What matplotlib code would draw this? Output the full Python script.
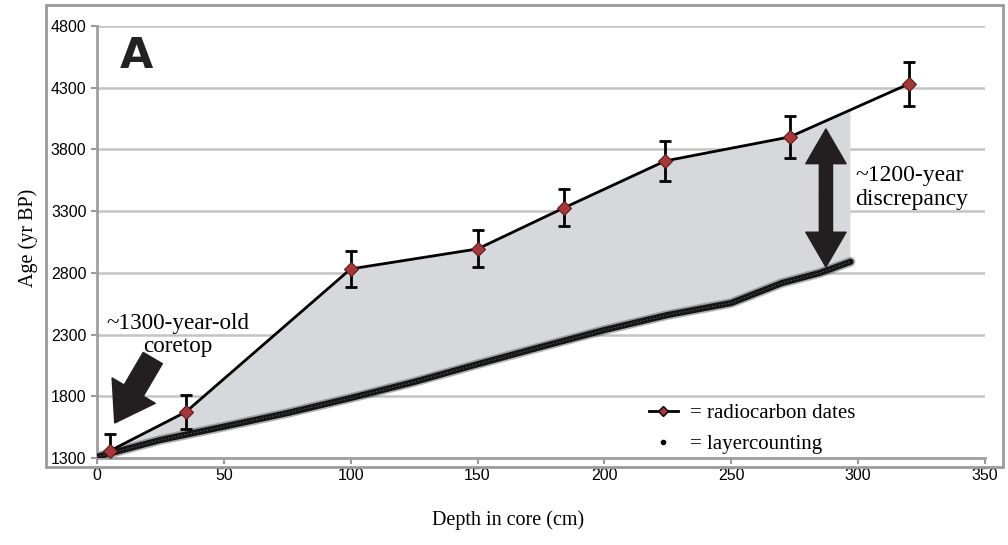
import matplotlib
matplotlib.use('Agg')
import matplotlib.pyplot as plt
import matplotlib.patches as mpatches
from matplotlib.lines import Line2D
import numpy as np

# radiocarbon dates (depth cm, age yr BP, 1-sigma error)
rc_depth = [5, 35, 100, 150, 184, 224, 273, 320]
rc_age = [1357, 1673, 2832, 2994, 3326, 3707, 3901, 4331]
rc_err = [140, 140, 145, 150, 150, 160, 170, 180]

# layercounting age model
lc_depth = [0, 25, 50, 75, 100, 125, 150, 175, 200, 225, 250, 270, 285, 297]
lc_age = [1310, 1446, 1554, 1664, 1786, 1916, 2060, 2200, 2337, 2459, 2556, 2718, 2800, 2890]

x_ticks = [0, 50, 100, 150, 200, 250, 300, 350]
y_ticks = [1300, 1800, 2300, 2800, 3300, 3800, 4300, 4800]

serif = ['Liberation Serif', 'DejaVu Serif']
tick_font = ['Liberation Sans Narrow', 'Liberation Sans', 'DejaVu Sans']

fig = plt.figure(figsize=(10.08, 5.45), dpi=100)
ax = fig.add_axes([0.0962, 0.1596, 0.881, 0.7927])

# outer frame
frame = mpatches.Rectangle((46 / 1008, 1 - 467 / 545), (1003 - 46) / 1008, (467 - 5) / 545,
                           transform=fig.transFigure, fill=False, edgecolor='#9a9a9a',
                           linewidth=2, zorder=0)
fig.patches.append(frame)

ax.set_xlim(0, 350)
ax.set_ylim(1300, 4800)
ax.set_xticks(x_ticks)
ax.set_yticks(y_ticks)
for lab in ax.get_xticklabels() + ax.get_yticklabels():
    lab.set_family(tick_font)
    lab.set_fontsize(11.5)
ax.tick_params(axis='both', colors='#9a9a9a', labelcolor='black', length=4, width=1.5)
ax.grid(axis='y', color='#c4c4c4', linewidth=1.8)
ax.set_axisbelow(True)
for side in ['top', 'right']:
    ax.spines[side].set_visible(False)
for side in ['left', 'bottom']:
    ax.spines[side].set_color('#a0a0a0')
    ax.spines[side].set_linewidth(2)

# shaded discrepancy between the two age models
x_end = lc_depth[-1]
top_x = [d for d in rc_depth if d <= x_end] + [x_end]
top_y = list(np.interp(top_x, rc_depth, rc_age))
poly_x = [0] + top_x + lc_depth[::-1]
poly_y = [lc_age[0]] + top_y + lc_age[::-1]
ax.fill(poly_x, poly_y, color='#d7d8db', zorder=1, linewidth=0)

# layercounting line (thick, slightly blurred look)
ax.plot(lc_depth, lc_age, color='#555555', linewidth=7, alpha=0.45,
        solid_capstyle='round', zorder=2)
ax.plot(lc_depth, lc_age, color='#151515', linewidth=4.5, solid_capstyle='round', zorder=3)
ax.plot(lc_depth, lc_age, color='#56606a', linewidth=0.8, linestyle=(0, (1, 2)), zorder=4)

# radiocarbon dates
ax.errorbar(rc_depth, rc_age, yerr=rc_err, fmt='none', ecolor='black', elinewidth=2,
            capsize=4, capthick=2, zorder=5)
ax.plot(rc_depth, rc_age, color='black', linewidth=2, marker='D', markersize=7,
        markerfacecolor='#a83838', markeredgecolor='#5a1c1c', markeredgewidth=0.8, zorder=6)

# panel letter
ax.text(0.044, 0.93, 'A', transform=ax.transAxes, fontsize=31, fontweight='bold',
        family='DejaVu Sans', ha='center', va='center', color='#222222')

# annotations
ax.text(32, 2296, '~1300-year-old\ncoretop', family=serif, fontsize=16.7, ha='center',
        va='center', linespacing=1.15)
arrow_kw = dict(arrowstyle='simple,head_length=27,head_width=36,tail_width=16',
                color='#231f20', mutation_scale=1, shrinkA=0, shrinkB=0)
ax.annotate('', xy=(7, 1584), xytext=(22, 2110), arrowprops=arrow_kw, zorder=7)

ax.text(299, 3490, '~1200-year\ndiscrepancy', family=serif, fontsize=17, ha='left',
        va='center', linespacing=1.15)
dbl_kw = dict(arrowstyle='simple,head_length=25,head_width=29,tail_width=9.5',
              color='#231f20', mutation_scale=1, shrinkA=0, shrinkB=0)
mid = (3966 + 2848) / 2
ax.annotate('', xy=(287.3, 3966), xytext=(287.3, mid), arrowprops=dbl_kw, zorder=7)
ax.annotate('', xy=(287.3, 2848), xytext=(287.3, mid), arrowprops=dbl_kw, zorder=7)

# legend
handles = [
    Line2D([], [], color='black', linewidth=2, marker='D', markersize=5,
           markerfacecolor='#a83838', markeredgecolor='black'),
    Line2D([], [], color='black', linestyle='none', marker='o', markersize=3),
]
ax.legend(handles, ['= radiocarbon dates', '= layercounting'], loc='lower left',
          bbox_to_anchor=(0.6, -0.035), frameon=False, handlelength=1.4,
          handletextpad=0.6, prop={'family': serif, 'size': 15}, labelspacing=0.55)

ax.set_xlabel('Depth in core (cm)', family=serif, fontsize=14.5)
ax.set_ylabel('Age (yr BP)', family=serif, fontsize=14.5)
ax.xaxis.set_label_coords(0.463, -0.1435)
ax.yaxis.set_label_coords(-0.0777, 0.51)
ax.xaxis.label.set_va('center')
ax.yaxis.label.set_va('center')

fig.savefig('out.png', dpi=100)
